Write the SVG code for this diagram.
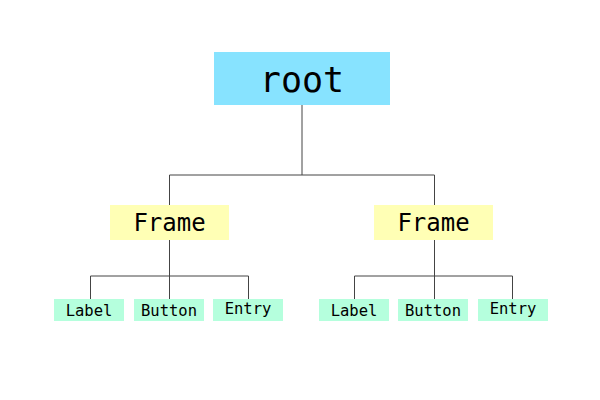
<svg xmlns="http://www.w3.org/2000/svg" width="600" height="400" viewBox="0 0 600 400">
<style>
text{font-family:"DejaVu Sans Mono","Liberation Mono",monospace;fill:#000;text-anchor:middle}
.root{fill:#87E3FF}
.frame{fill:#FFFFB5}
.leaf{fill:#B5FFDD}
.c{stroke:#444;stroke-width:1;fill:none}
.t1{font-size:35px}
.t2{font-size:24px}
.t3{font-size:15.5px}
</style>
<rect width="600" height="400" fill="#fff"/>
<g id="connectors">
<path class="c" d="M302 105V175M169.5 175H434.5M169.5 175V205M434.5 175V205"/>
<path class="c" d="M169.5 240V299M90.5 276H248.5M90.5 276V299M248.5 276V299"/>
<path class="c" d="M434.5 240V299M354.5 276H512.5M354.5 276V299M512.5 276V299"/>
</g>
<g id="root"><rect class="root" x="214" y="52" width="176" height="53"/><text class="t1" x="302" y="92">root</text></g>
<g id="frame1"><rect class="frame" x="110" y="205" width="119" height="35"/><text class="t2" x="169.5" y="231">Frame</text></g>
<g id="frame2"><rect class="frame" x="374" y="205" width="119" height="35"/><text class="t2" x="433.5" y="231">Frame</text></g>
<g id="label1"><rect class="leaf" x="54" y="299" width="70" height="22"/><text class="t3" x="89" y="315.5">Label</text></g>
<g id="button1"><rect class="leaf" x="134" y="299" width="70" height="22"/><text class="t3" x="169" y="315.5">Button</text></g>
<g id="entry1"><rect class="leaf" x="213" y="299" width="70" height="22"/><text class="t3" x="248" y="313.5">Entry</text></g>
<g id="label2"><rect class="leaf" x="319" y="299" width="70" height="22"/><text class="t3" x="354" y="315.5">Label</text></g>
<g id="button2"><rect class="leaf" x="398" y="299" width="70" height="22"/><text class="t3" x="433" y="315.5">Button</text></g>
<g id="entry2"><rect class="leaf" x="478" y="299" width="70" height="22"/><text class="t3" x="513" y="313.5">Entry</text></g>
</svg>
